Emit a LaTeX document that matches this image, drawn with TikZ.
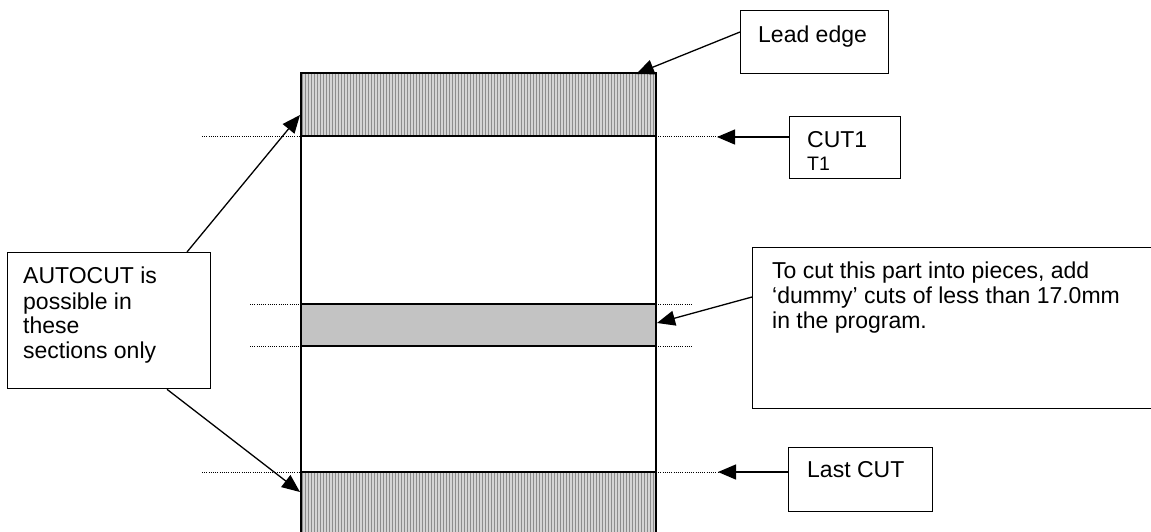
\documentclass[tikz,border=0pt]{standalone}
\usepackage{fontspec}
\setmainfont{Liberation Sans}
\usetikzlibrary{arrows.meta,calc}
\definecolor{bandfill}{RGB}{212,212,212}
\definecolor{hatchcol}{RGB}{140,140,140}
\definecolor{midfill}{RGB}{195,195,195}
\begin{document}
\begin{tikzpicture}[x=1pt,y=-1pt,
  box/.style={draw, line width=1.3pt, inner sep=0pt, anchor=north west},
  txt/.style={anchor=base west, inner sep=0pt, font=\fontsize{23}{25}\selectfont},
  smalltxt/.style={anchor=base west, inner sep=0pt, font=\fontsize{19.5}{22}\selectfont},
  arr/.style={line width=1.3pt, -{Triangle[length=18pt,width=15pt]}},
  dots/.style={line width=1pt, dash pattern=on 1pt off 1.2pt},
  sheetline/.style={line width=1.4pt},
  hatch/.style={hatchcol, line width=0.8pt},
]
\useasboundingbox (0,0) rectangle (1151,531);
\clip (0,0) rectangle (1151,531);

% shaded bands
\fill[bandfill] (301,73) rectangle (656,136);
\foreach \x in {302.5,305.5,...,655} \draw[hatch] (\x,73) -- (\x,136);
\fill[bandfill] (301,472) rectangle (656,535);
\foreach \x in {302.5,305.5,...,655} \draw[hatch] (\x,472) -- (\x,535);
\fill[midfill] (301,304) rectangle (656,346);

% dotted cut lines
\draw[dots] (202,136) -- (301,136);
\draw[dots] (656,136) -- (763,136);
\draw[dots] (250,304) -- (301,304);
\draw[dots] (656,304) -- (692,304);
\draw[dots] (250,346) -- (301,346);
\draw[dots] (656,346) -- (692,346);
\draw[dots] (202,472) -- (301,472);
\draw[dots] (656,472) -- (763,472);

% sheet outline and band borders
\draw[sheetline] (301,540) -- (301,73) -- (656,73) -- (656,540);
\draw[sheetline] (301,136) -- (656,136);
\draw[sheetline] (301,304) -- (656,304);
\draw[sheetline] (301,346) -- (656,346);
\draw[sheetline] (301,472) -- (656,472);

% label boxes
\node[box, minimum width=148pt, minimum height=63pt] (lead) at (740,10) {};
\node[txt] at (758,42) {Lead edge};

\node[box, minimum width=111pt, minimum height=62pt] (cut1) at (789,116) {};
\node[txt] at (807,147) {CUT1};
\node[smalltxt] at (807,170) {T1};

\node[box, minimum width=420pt, minimum height=161pt] (mid) at (752,247) {};
\node[txt] at (772,278) {To cut this part into pieces, add};
\node[txt] at (772,303) {‘dummy’ cuts of less than 17.0mm};
\node[txt] at (772,328) {in the program.};

\node[box, minimum width=203pt, minimum height=136pt] (auto) at (7,252) {};
\node[txt] at (23,283) {AUTOCUT is};
\node[txt] at (23,309) {possible in};
\node[txt] at (23,333) {these};
\node[txt] at (23,358) {sections only};

\node[box, minimum width=144pt, minimum height=64pt] (last) at (788,447) {};
\node[txt] at (807,477) {Last CUT};

% arrow tips
\coordinate (leadtip) at (636,74);
\coordinate (cuttip) at (717,137);
\coordinate (midtip) at (657,323);
\coordinate (toptip) at (300,115);
\coordinate (bottip) at (300,492);
\coordinate (lasttip) at (718,472);

% arrows
\draw[arr] ($(lead.north west)+(0,22)$) -- (leadtip);
\draw[arr] ($(cut1.north west)+(0,21)$) -- (cuttip);
\draw[arr] ($(mid.north west)+(0,50)$) -- (midtip);
\draw[arr] ($(auto.north west)+(180,0)$) -- (toptip);
\draw[arr] ($(auto.south west)+(160,0)$) -- (bottip);
\draw[arr] ($(last.north west)+(0,25)$) -- (lasttip);
\end{tikzpicture}
\end{document}
